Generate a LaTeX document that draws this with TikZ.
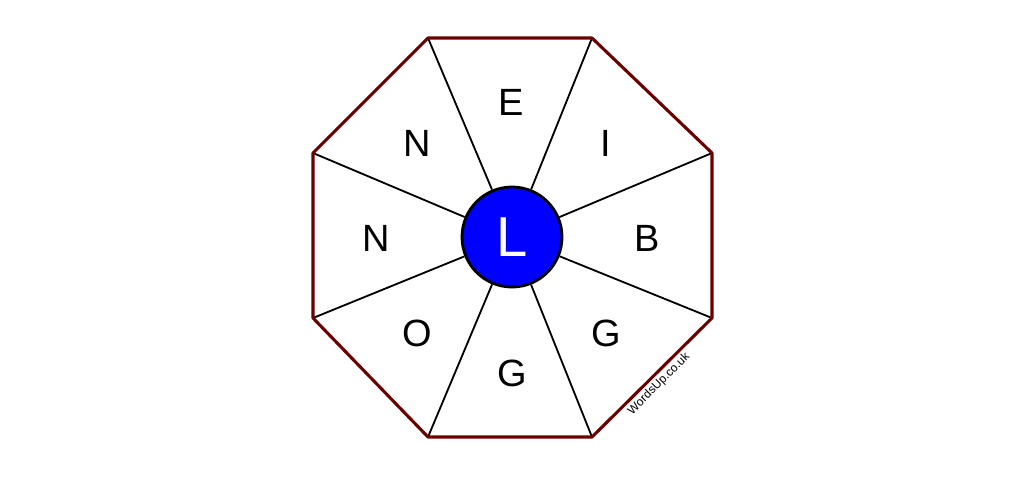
\documentclass[tikz,border=0pt]{standalone}
\usepackage{fontspec}
\setmainfont{Liberation Sans}
\definecolor{rim}{HTML}{6B0000}
\definecolor{hub}{HTML}{0000FF}

\begin{document}
\begin{tikzpicture}[x=0.025cm,y=-0.025cm,
   letter/.style={font=\fontsize{27}{27}\selectfont},
   spoke/.style={line width=1.3pt}]
   \useasboundingbox (0,0) rectangle (1024,476);
   \coordinate (v1) at (428,38);
   \coordinate (v2) at (592,38);
   \coordinate (v3) at (712,153);
   \coordinate (v4) at (712,318);
   \coordinate (v5) at (592,437);
   \coordinate (v6) at (428,437);
   \coordinate (v7) at (313,318);
   \coordinate (v8) at (313,153);

   \node[circle,draw,line width=2pt,fill=hub,minimum size=2.5cm,inner sep=0pt,
     text=white,font=\fontsize{40}{40}\selectfont] (hub) at (512,237) {L};

   \foreach \v in {v1,v2,v3,v4,v5,v6,v7,v8}
     \draw[spoke] (hub) -- (\v);

   \draw[rim,line width=2.2pt,line join=round]
     (v1) -- (v2) -- (v3) -- (v4) -- (v5) -- (v6) -- (v7) -- (v8) -- cycle;

   \node[letter] (lE) at (511,102) {E};
   \node[letter] (lI) at (606,143) {I};
   \node[letter] (lB) at (647,238) {B};
   \node[letter] (lG1) at (606,333) {G};
   \node[letter] (lG2) at (512,373) {G};
   \node[letter] (lO) at (417,333) {O};
   \node[letter] (lN1) at (376,238) {N};
   \node[letter] (lN2) at (417,143) {N};

   \node[rotate=45,font=\fontsize{8.5}{8.5}\selectfont] (mark) at (659,384) {WordsUp.co.uk};
\end{tikzpicture}
\end{document}
